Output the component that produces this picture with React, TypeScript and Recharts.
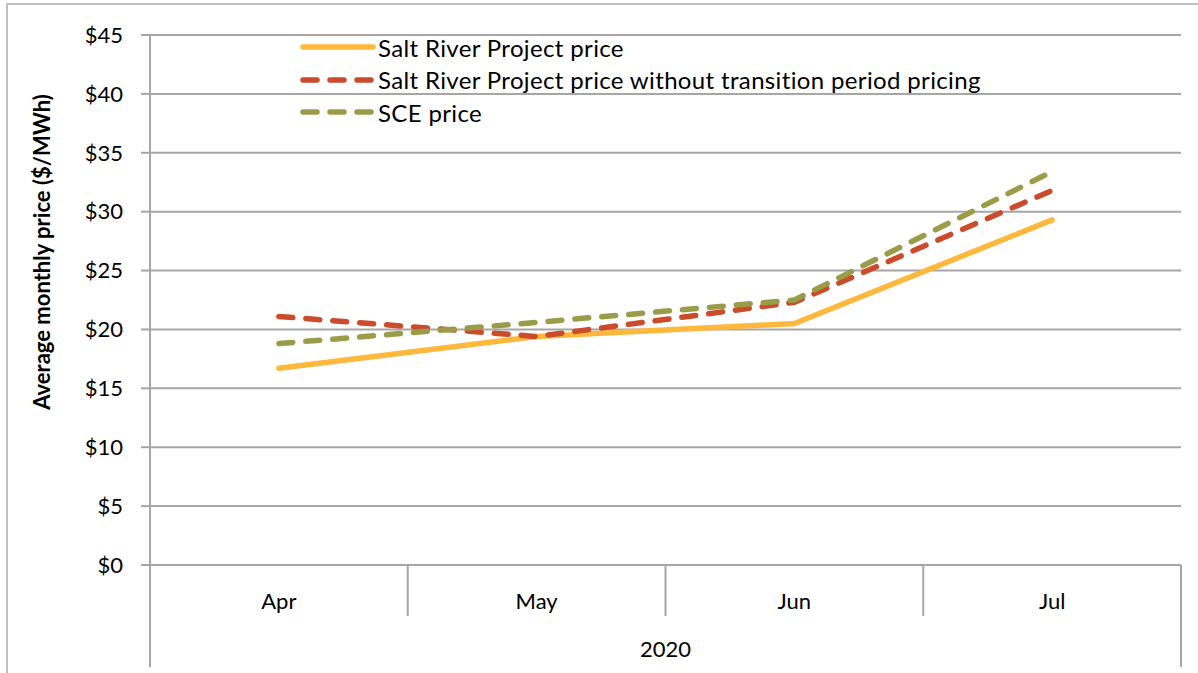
import React from 'react';
import { LineChart, Line, XAxis, YAxis, CartesianGrid } from 'recharts';

const months = ['Apr', 'May', 'Jun', 'Jul'];
const srpPrice = [16.7, 19.4, 20.5, 29.3];
const srpNoTransition = [21.1, 19.4, 22.3, 31.8];
const scePrice = [18.8, 20.6, 22.5, 33.4];
const yTicks = [0, 5, 10, 15, 20, 25, 30, 35, 40, 45];

const data = months.map((m, i) => ({
  month: m,
  srp: srpPrice[i],
  srpNoTp: srpNoTransition[i],
  sce: scePrice[i],
}));

const series = [
  { key: 'srp', name: 'Salt River Project price', color: '#FFB83C', dash: undefined },
  { key: 'srpNoTp', name: 'Salt River Project price without transition period pricing', color: '#CC4B2B', dash: '14 13' },
  { key: 'sce', name: 'SCE price', color: '#9A9C48', dash: '14 13' },
];

const FONT = 'Lato, sans-serif';
const FS = 22;
const GRID = '#A6A6A6';
const BAND = 1031 / months.length;

const MonthTick = (props: any) => {
  const { x, y, payload, index } = props;
  const left = x - BAND / 2;
  const right = x + BAND / 2;
  return (
    <g>
      <line x1={left} y1={y - 8} x2={left} y2={index === 0 ? y + 94 : y + 43} stroke={GRID} strokeWidth={2} />
      {index === months.length - 1 && (
        <line x1={right} y1={y - 8} x2={right} y2={y + 94} stroke={GRID} strokeWidth={2} />
      )}
      <text x={x} y={y + 36} textAnchor="middle" fontFamily={FONT} fontSize={FS} fill="#000">
        {payload.value}
      </text>
    </g>
  );
};

// legend sits over the plot, as in the original
const LegendBox = () => (
  <div style={{ position: 'absolute', left: 300, top: 31, fontFamily: FONT, fontSize: 24, letterSpacing: 0.35, color: '#000' }}>
    {series.map((s) => (
      <div key={s.key} style={{ display: 'flex', alignItems: 'center', height: 32.5 }}>
        <svg width={76} height={10}>
          <line x1={3} y1={5} x2={73} y2={5} stroke={s.color} strokeWidth={5.5}
            strokeDasharray={s.dash} strokeLinecap="round" />
        </svg>
        <span style={{ marginLeft: 2, whiteSpace: 'nowrap' }}>{s.name}</span>
      </div>
    ))}
  </div>
);

export default function App() {
  return (
    <div style={{ position: 'absolute', left: 0, top: 0, width: 1198, height: 673, background: '#fff', overflow: 'hidden' }}>
      <div style={{ position: 'absolute', left: 6, top: 3, width: 1200, height: 700, borderLeft: '2px solid #BFBFBF', borderTop: '2px solid #BFBFBF' }} />
      <LineChart width={1198} height={673} data={data} margin={{ top: 35, right: 17, bottom: 0, left: 50 }}>
        <CartesianGrid vertical={false} stroke={GRID} strokeWidth={2} />
        <XAxis dataKey="month" padding={{ left: BAND / 2, right: BAND / 2 }} height={108}
          axisLine={{ stroke: GRID, strokeWidth: 2 }} tickLine={false} tick={<MonthTick />} interval={0}
          label={{ value: '2020', position: 'insideBottom', offset: 16, fontFamily: FONT, fontSize: FS, fill: '#000' }} />
        <YAxis width={100} domain={[0, 45]} ticks={yTicks} tickFormatter={(v) => `$${v}`}
          axisLine={{ stroke: GRID, strokeWidth: 2 }} tickLine={{ stroke: GRID, strokeWidth: 2 }} tickSize={9} tickMargin={18}
          tick={{ fontFamily: FONT, fontSize: FS, fill: '#000' }}
          label={{ value: 'Average monthly price ($/MWh)', angle: -90, position: 'insideLeft', offset: -8, dy: -48,
            style: { fontFamily: FONT, fontSize: FS, fontWeight: 'bold', fill: '#000', textAnchor: 'middle' } }} />
        <YAxis yAxisId="right" orientation="right" width={0} domain={[0, 45]} tick={false}
          axisLine={{ stroke: GRID, strokeWidth: 2 }} tickLine={false} />
        {series.map((s) => (
          <Line key={s.key} dataKey={s.key} name={s.name} stroke={s.color} strokeWidth={5.5}
            strokeDasharray={s.dash} strokeLinecap="round" dot={false} isAnimationActive={false} />
        ))}
      </LineChart>
      <LegendBox />
    </div>
  );
}
